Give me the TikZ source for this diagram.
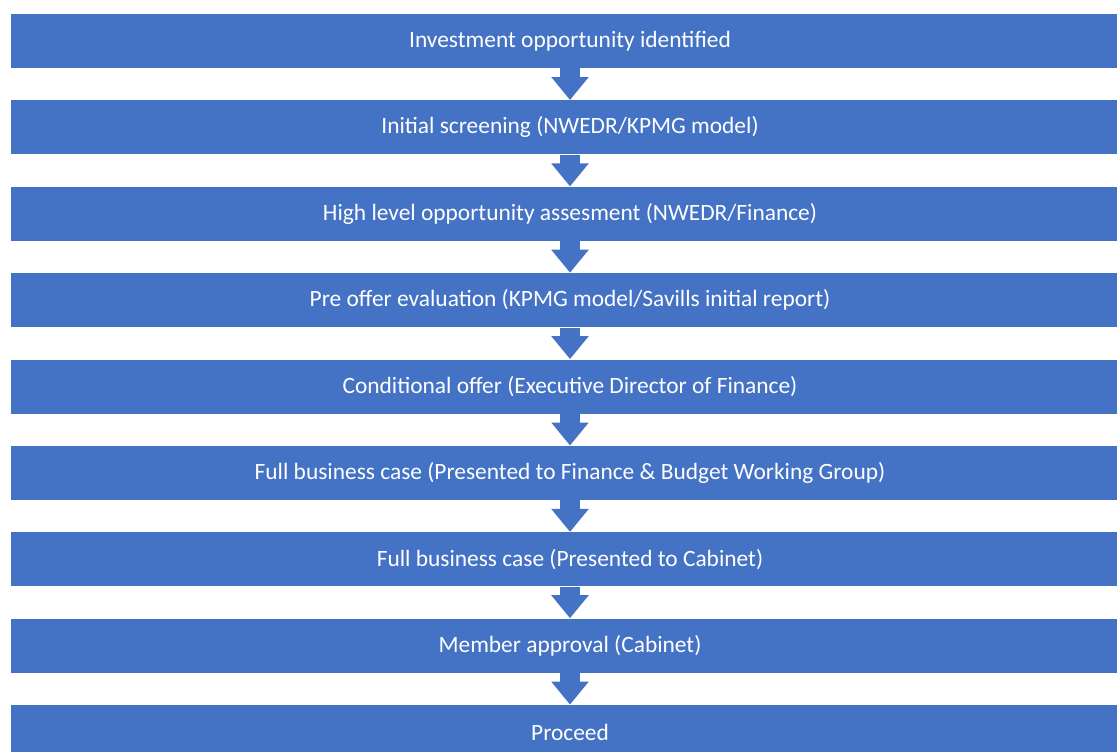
\documentclass[tikz,border=0pt]{standalone}
\usepackage{fontspec}
\setmainfont{Carlito}
\usetikzlibrary{arrows.meta}
\definecolor{barblue}{HTML}{4472C4}
\tikzset{
	stepbar/.style={fill=barblue, draw=none, text=white, minimum width=559pt, minimum height=27pt, inner sep=0pt, font=\fontsize{11.7}{14}\selectfont},
	flowarrow/.style={draw=barblue, line width=10pt, -{Triangle[width=18pt, length=11.5pt, fill=barblue]}}
}

\begin{document}
\begin{tikzpicture}[x=0.5pt, y=-0.5pt]
	\useasboundingbox (0,0) rectangle (1117,751);
	% steps
	\node[stepbar] (s1) at (570,41) {Investment opportunity identified};
	\node[stepbar] (s2) at (570,127.4) {Initial screening (NWEDR/KPMG model)};
	\node[stepbar] (s3) at (570,213.8) {High level opportunity assesment (NWEDR/Finance)};
	\node[stepbar] (s4) at (570,300.1) {Pre offer evaluation (KPMG model/Savills initial report)};
	\node[stepbar] (s5) at (570,386.5) {Conditional offer (Executive Director of Finance)};
	\node[stepbar] (s6) at (570,472.9) {Full business case (Presented to Finance \& Budget Working Group)};
	\node[stepbar] (s7) at (570,559.3) {Full business case (Presented to Cabinet)};
	\node[stepbar] (s8) at (570,645.6) {Member approval (Cabinet)};
	\node[stepbar] (s9) at (570,732) {Proceed};
	% arrows
	\draw[flowarrow] (s1.south) -- (s2.north);
	\draw[flowarrow] (s2.south) -- (s3.north);
	\draw[flowarrow] (s3.south) -- (s4.north);
	\draw[flowarrow] (s4.south) -- (s5.north);
	\draw[flowarrow] (s5.south) -- (s6.north);
	\draw[flowarrow] (s6.south) -- (s7.north);
	\draw[flowarrow] (s7.south) -- (s8.north);
	\draw[flowarrow] (s8.south) -- (s9.north);
\end{tikzpicture}
\end{document}
